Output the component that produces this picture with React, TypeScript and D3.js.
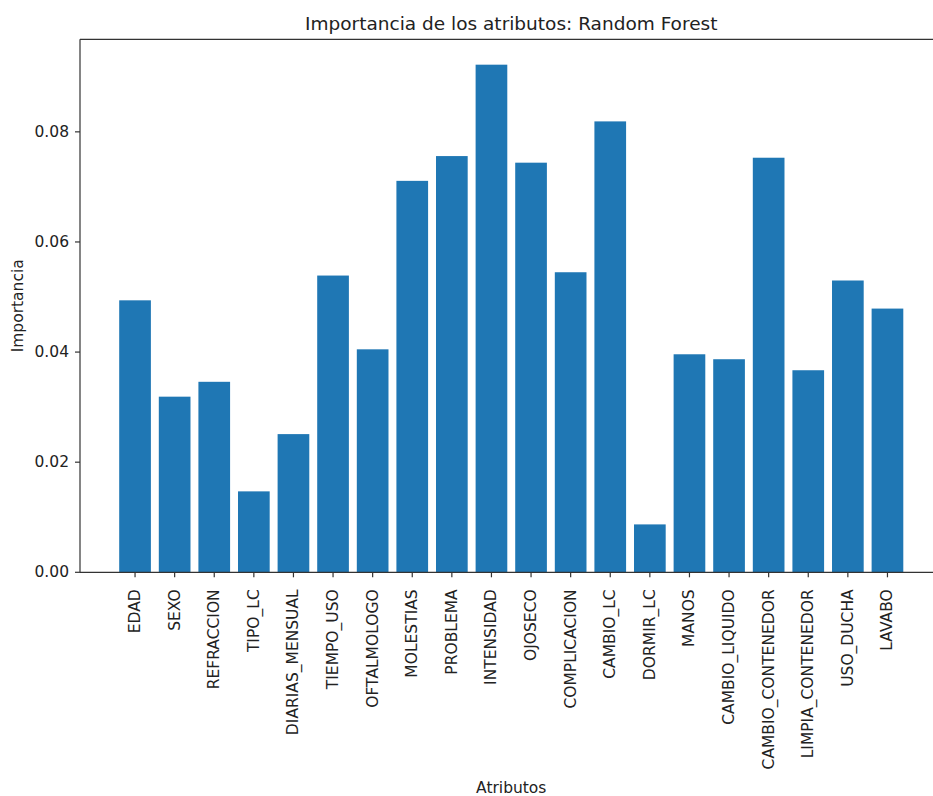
import React from "react";
import * as d3 from "d3";

const categories = [
  "EDAD", "SEXO", "REFRACCION", "TIPO_LC", "DIARIAS_MENSUAL", "TIEMPO_USO",
  "OFTALMOLOGO", "MOLESTIAS", "PROBLEMA", "INTENSIDAD", "OJOSECO",
  "COMPLICACION", "CAMBIO_LC", "DORMIR_LC", "MANOS", "CAMBIO_LIQUIDO",
  "CAMBIO_CONTENEDOR", "LIMPIA_CONTENEDOR", "USO_DUCHA", "LAVABO",
];
const importance = [
  0.0494, 0.0319, 0.0346, 0.0147, 0.0251, 0.0539,
  0.0405, 0.0711, 0.0756, 0.0922, 0.0744,
  0.0545, 0.0819, 0.0087, 0.0396, 0.0387,
  0.0753, 0.0367, 0.0530, 0.0479,
];
const yTicks = [0, 0.02, 0.04, 0.06, 0.08];
const title = "Importancia de los atributos: Random Forest";
const xLabel = "Atributos";
const yLabel = "Importancia";

const W = 933;
const H = 796;
const FONT = "'DejaVu Sans', sans-serif";

export default function App() {
  const left = 80;
  const right = 942.5;
  const top = 39.3;
  const bottom = 572.3;
  const n = categories.length;
  const bw = 0.8;
  const lo = -bw / 2;
  const hi = n - 1 + bw / 2;
  const m = (hi - lo) * 0.05;
  const x = d3.scaleLinear().domain([lo - m, hi + m]).range([left, right]);
  const ymax = (d3.max(importance) as number) * 1.05;
  const y = d3.scaleLinear().domain([0, ymax]).range([bottom, top]);
  const fs = 15.5;

  return (
    <svg
      width={W}
      height={H}
      style={{ position: "absolute", left: 0, top: 0, background: "#fff" }}
      fontFamily={FONT}
    >
      <rect x={0} y={0} width={W} height={H} fill="#fff" />
      {importance.map((v, i) => (
        <rect
          key={categories[i]}
          x={x(i - bw / 2)}
          y={y(v)}
          width={x(i + bw / 2) - x(i - bw / 2)}
          height={y(0) - y(v)}
          fill="#1f77b4"
        />
      ))}
      {/* spines */}
      <line x1={left} x2={left} y1={top} y2={bottom} stroke="#333" strokeWidth={1.2} />
      <line x1={left} x2={right} y1={bottom} y2={bottom} stroke="#333" strokeWidth={1.2} />
      <line x1={left} x2={right} y1={top} y2={top} stroke="#333" strokeWidth={1.2} />
      <line x1={right} x2={right} y1={top} y2={bottom} stroke="#333" strokeWidth={1.2} />
      {/* y ticks */}
      {yTicks.map((t) => (
        <g key={t}>
          <line x1={left - 5} x2={left} y1={y(t)} y2={y(t)} stroke="#333" strokeWidth={1.2} />
          <text
            x={left - 11}
            y={y(t)}
            textAnchor="end"
            dominantBaseline="central"
            fontSize={fs}
            fill="#222"
          >
            {t.toFixed(2)}
          </text>
        </g>
      ))}
      {/* x ticks */}
      {categories.map((c, i) => (
        <g key={c}>
          <line x1={x(i)} x2={x(i)} y1={bottom} y2={bottom + 5} stroke="#333" strokeWidth={1.2} />
          <text
            transform={`translate(${x(i)},${bottom + 17}) rotate(-90)`}
            textAnchor="end"
            dominantBaseline="central"
            fontSize={fs}
            fill="#222"
          >
            {c}
          </text>
        </g>
      ))}
      <text x={(left + right) / 2} y={30} textAnchor="middle" fontSize={18.5} fill="#222">
        {title}
      </text>
      <text x={(left + right) / 2} y={793} textAnchor="middle" fontSize={fs} fill="#222">
        {xLabel}
      </text>
      <text
        transform={`translate(18,${(top + bottom) / 2}) rotate(-90)`}
        textAnchor="middle"
        dominantBaseline="central"
        fontSize={fs}
        fill="#222"
      >
        {yLabel}
      </text>
    </svg>
  );
}
